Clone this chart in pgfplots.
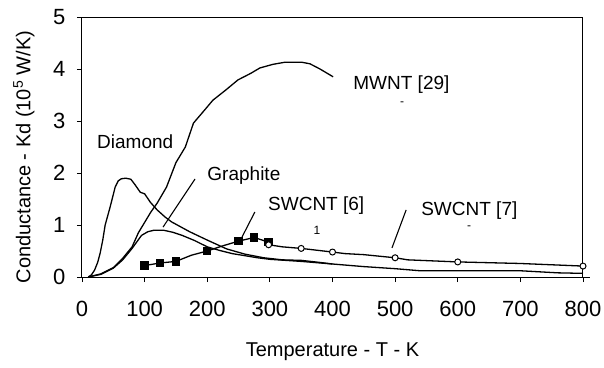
\documentclass[border=0pt]{standalone}
\usepackage{fontspec}
\setmainfont{Liberation Sans}
\usepackage{pgfplots}
\pgfplotsset{compat=1.18}
\begin{document}
\begin{tikzpicture}
\begin{axis}[
  at={(0pt,0pt)}, anchor=south west,
  scale only axis, width=501pt, height=260pt,
  xmin=0, xmax=800, ymin=0, ymax=5,
  xtick={0,100,...,800}, ytick={0,1,...,5},
  tick align=outside, xtick pos=bottom, ytick pos=left,
  major tick length=5pt,
  axis line style={line width=1pt},
  every tick/.style={black, line width=0.8pt},
  tick label style={font=\fontsize{22}{26}\selectfont},
  /pgf/number format/assume math mode=true,
  yticklabel style={xshift=-8pt},
  xticklabel style={yshift=-16pt},
  xlabel={Temperature - T - K},
  ylabel={Conductance - Kd (10\textsuperscript{5} W/K)},
  label style={font=\fontsize{20}{24}\selectfont},
  xlabel style={at={(axis description cs:0.5,-0.2885)}, anchor=center},
  ylabel style={at={(axis description cs:-0.1158,0.4615)}, anchor=center},
  clip=false,
]
% Diamond
\addplot[black, line width=1.3pt, no marks] coordinates {
(10,0) (15,0.04) (20,0.13) (25,0.28) (29,0.46) (33,0.70) (37,1.0) (45,1.35) (53,1.73) (58,1.85) (63,1.89) (70,1.90) (78,1.88)
(85,1.77) (93,1.63) (100,1.60) (109,1.44) (120,1.29) (133,1.15) (143,1.06) (172,0.87) (200,0.71)
(231,0.54) (260,0.44) (290,0.37) (320,0.33) (350,0.32) (380,0.28) (400,0.25) (450,0.20) (500,0.16)
(540,0.12) (700,0.12) (760,0.08) (800,0.07)};
% Graphite
\addplot[black, line width=1.3pt, no marks] coordinates {
(10,0) (30,0.05) (50,0.17) (65,0.33) (80,0.55) (95,0.80) (105,0.87) (115,0.90) (130,0.90)
(145,0.86) (160,0.80) (180,0.70) (200,0.58) (220,0.51) (240,0.45) (260,0.41) (280,0.37)
(300,0.34) (350,0.30) (380,0.27) (400,0.25)};
% MWNT [29]
\addplot[black, line width=1.3pt, no marks] coordinates {
(10,0) (30,0.06) (50,0.18) (65,0.36) (80,0.58) (90,0.85) (100,1.05) (110,1.25) (120,1.42)
(135,1.73) (150,2.2) (165,2.5) (178,2.96) (195,3.2) (209,3.4) (230,3.6) (249,3.79) (270,3.92)
(284,4.02) (305,4.09) (324,4.13) (351,4.13) (364,4.10) (380,4.00) (401,3.85)};
% SWCNT [6]
\addplot[black, line width=1.3pt, mark=square*, mark size=3.5pt, mark indices={1,2,3,5,7,8,9}] coordinates {
(100,0.22) (125,0.27) (150,0.30) (175,0.42) (200,0.50) (225,0.60) (250,0.69) (275,0.76) (298,0.67)};
% SWCNT [7]
\addplot[black, line width=1.3pt, mark=*, mark options={fill=white, line width=1pt}, mark size=3pt,
  mark indices={1,3,4,7,9,11}] coordinates {
(298,0.62) (320,0.58) (350,0.55) (400,0.48) (420,0.45) (450,0.43) (500,0.37) (520,0.33)
(600,0.29) (700,0.26) (800,0.21)};
% labels
\tikzset{lab/.style={anchor=base west, inner sep=0pt, font=\fontsize{19}{23}\selectfont}}
\node[lab] at (axis cs:24,2.48) {Diamond};
\node[lab] at (axis cs:200,1.865) {Graphite};
\node[lab] at (axis cs:297,1.27) {SWCNT [6]};
\node[lab] at (axis cs:541.5,1.19) {SWCNT [7]};
\node[lab] at (axis cs:433,3.6) {MWNT [29]};
\node[font=\fontsize{12}{14}\selectfont, inner sep=0pt] at (axis cs:375,0.9) {1};
\node[font=\fontsize{12}{14}\selectfont, inner sep=0pt] at (axis cs:511,3.33) {-};
\node[font=\fontsize{12}{14}\selectfont, inner sep=0pt] at (axis cs:618,0.94) {-};
\draw[line width=1.1pt] (axis cs:180.5,1.885) -- (axis cs:129.4,0.96);
\draw[line width=1.1pt] (axis cs:276,1.25) -- (axis cs:255.6,0.77);
\draw[line width=1.1pt] (axis cs:517.6,1.29) -- (axis cs:495,0.56);
\draw[line width=1pt] (axis cs:800,0) -- ++(7pt,0);
\end{axis}
\pgfresetboundingbox
\path[use as bounding box] (-82pt,-90pt) rectangle (522pt,277pt);
\end{tikzpicture}
\end{document}
